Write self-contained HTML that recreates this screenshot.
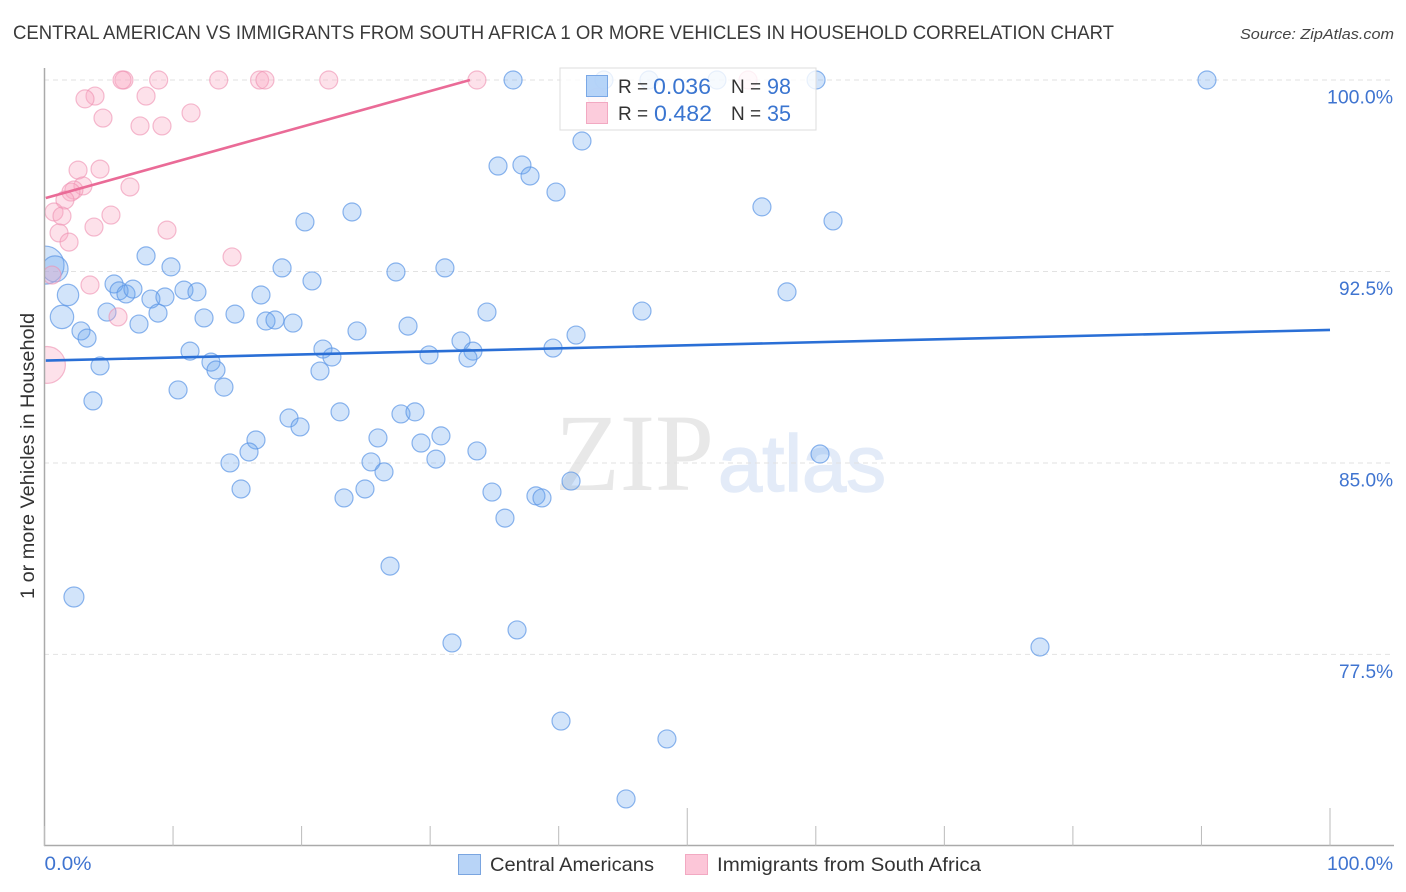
<!DOCTYPE html>
<html>
<head>
<meta charset="utf-8">
<title>Central American vs Immigrants from South Africa chart</title>
<style>
html,body{margin:0;padding:0;background:#fff;}
svg{display:block;font-family:"Liberation Sans",sans-serif;}
</style>
</head>
<body>
<svg id="chart" width="1406" height="892" viewBox="0 0 1406 892" xmlns="http://www.w3.org/2000/svg">
<text x="13" y="39" font-size="19.5" fill="#3a3a3a" textLength="1101" lengthAdjust="spacingAndGlyphs">CENTRAL AMERICAN VS IMMIGRANTS FROM SOUTH AFRICA 1 OR MORE VEHICLES IN HOUSEHOLD CORRELATION CHART</text>
<text x="1394" y="39" font-size="15" font-style="italic" fill="#444" text-anchor="end" textLength="154" lengthAdjust="spacingAndGlyphs">Source: ZipAtlas.com</text>
<text x="555" y="490" font-family="'Liberation Serif',serif" font-size="110" fill="#e8e8e8" textLength="159" lengthAdjust="spacingAndGlyphs">ZIP</text>
<text x="718" y="491" font-size="80" fill="#e3ebf8" stroke="#e3ebf8" stroke-width="1.5" textLength="168" lengthAdjust="spacingAndGlyphs">atlas</text>
<g id="grid"></g>
<g id="points"></g>
<rect x="0" y="60" width="44.5" height="786" fill="#fff"/>
<g id="axes"></g>
<g id="lines"></g>
<g>
<rect x="560" y="68" width="256" height="62" fill="#fff" fill-opacity="0.8" stroke="#ddd" stroke-width="1"/>
<rect x="586.5" y="75.5" width="21" height="21" fill="#a9ccf7" fill-opacity="0.85" stroke="#7aa8e6"/>
<rect x="586.5" y="102.5" width="21" height="21" fill="#fcc6d8" fill-opacity="0.9" stroke="#f2a9c2"/>
<text x="618" y="93" font-size="19" fill="#333">R =</text>
<text x="653" y="94" font-size="22" fill="#3a75d0" textLength="58" lengthAdjust="spacingAndGlyphs">0.036</text>
<text x="731" y="93" font-size="19" fill="#333">N =</text>
<text x="767" y="94" font-size="22" fill="#3a75d0" textLength="24" lengthAdjust="spacingAndGlyphs">98</text>
<text x="618" y="120" font-size="19" fill="#333">R =</text>
<text x="654" y="121" font-size="22" fill="#3a75d0" textLength="58" lengthAdjust="spacingAndGlyphs">0.482</text>
<text x="731" y="120" font-size="19" fill="#333">N =</text>
<text x="767" y="121" font-size="22" fill="#3a75d0" textLength="24" lengthAdjust="spacingAndGlyphs">35</text>
</g>
<text transform="translate(34,456) rotate(-90)" font-size="19" fill="#333" text-anchor="middle" textLength="286" lengthAdjust="spacingAndGlyphs">1 or more Vehicles in Household</text>
<g>
<rect x="458.5" y="854.5" width="22" height="20" fill="#b8d4f7" stroke="#7aa5e0"/>
<text x="490" y="871" font-size="19.5" fill="#333" textLength="164" lengthAdjust="spacingAndGlyphs">Central Americans</text>
<rect x="685.5" y="854.5" width="22" height="20" fill="#fcc6d8" stroke="#f2a9c2"/>
<text x="717" y="871" font-size="19.5" fill="#333" textLength="264" lengthAdjust="spacingAndGlyphs">Immigrants from South Africa</text>
</g>
</svg>
<script>
const blueX = [0.04,0.82,1.83,1.36,2.29,
36.45,43.52,47.02,52.31,60.02,90.43,41.81,35.28,37.14,37.77,39.79,55.81,61.34,20.26,23.92,7.90,9.84,18.48,20.81,27.34,31.15,
5.41,5.80,6.34,6.88,8.28,9.37,10.85,11.86,16.84,8.83,4.86,7.35,12.41,14.82,17.23,17.93,19.33,24.31,28.28,34.42,46.48,57.76,41.35,
2.84,3.31,32.40,33.33,32.94,39.56,29.91,21.66,22.36,21.43,11.32,12.95,13.34,4.32,13.96,10.39,3.77,22.99,19.02,19.88,27.73,28.82,
16.45,25.94,29.29,30.84,15.91,14.43,25.40,26.41,30.45,33.64,60.33,40.96,15.29,23.30,24.93,34.81,38.23,38.70,35.82,26.88,
36.76,31.70,77.44,40.18,48.42,45.24];
const blueY = [92.75,92.60,91.58,90.72,79.75,
100,100,100,100,100,100,97.61,96.63,96.67,96.24,95.61,95.03,94.48,94.44,94.83,93.11,92.68,92.64,92.13,92.48,92.64,
92.01,91.74,91.62,91.81,91.42,91.50,91.77,91.70,91.58,90.87,90.91,90.44,90.68,90.83,90.56,90.60,90.48,90.17,90.36,90.91,90.95,91.70,90.01,
90.17,89.89,89.78,89.38,89.11,89.50,89.23,89.46,89.15,88.60,89.38,88.95,88.64,88.80,87.97,87.86,87.43,87.00,86.76,86.41,86.92,87.00,
85.90,85.98,85.78,86.06,85.43,85.00,85.04,84.65,85.15,85.47,85.35,84.29,83.98,83.63,83.98,83.86,83.71,83.63,82.84,80.96,
78.46,77.95,77.79,74.89,74.19,71.84];
const blueWeight = [4.46,2.09,1.41,1.69,1.23];
const pinkX = [0.19,0.58,
6.18,6.03,8.88,13.55,16.73,17.15,22.11,33.64,54.73,42.98,3.93,3.15,7.90,11.40,4.55,7.43,9.14,2.61,4.32,6.65,2.99,2.29,2.06,1.59,0.74,1.36,3.85,5.17,9.53,1.13,1.91,14.59,3.54,5.72];
const pinkY = [88.84,92.36,
100,100,100,100,100,100,100,100,100,99.33,99.37,99.26,99.37,98.71,98.51,98.20,98.20,96.47,96.51,95.81,95.85,95.69,95.61,95.30,94.83,94.67,94.24,94.71,94.12,94.01,93.65,93.07,91.97,90.72];
const pinkWeight = [4.2];
const blueTrendX = [0.1,100];
const blueTrendY = [89.01,90.21];
const pinkTrendX = [0.1,33.1];
const pinkTrendY = [95.38,100];
const yTickValues = [100,92.5,85,77.5];
const yTickLabels = ["100.0%","92.5%","85.0%","77.5%"];
const xTickValues = [0,10,20,30,40,50,60,70,80,90,100];
const xEndValues = [0,100];
const xEndLabels = ["0.0%","100.0%"];

const NS = 'http://www.w3.org/2000/svg';
function xScale(v){ return 44.5 + v * 12.855; }
function yScale(v){ return 80 + (100 - v) * 25.53; }
function radius(w){ return 9 * Math.sqrt(w); }
function make(tag, parent, attrs){
  const el = document.createElementNS(NS, tag);
  for (const k in attrs) el.setAttribute(k, attrs[k]);
  parent.appendChild(el);
  return el;
}
const grid = document.getElementById('grid');
const axes = document.getElementById('axes');
const points = document.getElementById('points');
const lines = document.getElementById('lines');

yTickValues.forEach(function(v, i){
  const g = make('line', grid, {x1:44, x2:1394, y1:yScale(v), y2:yScale(v), stroke:'#e2e2e2', 'stroke-width':1, 'stroke-dasharray':'5 4'});
  
  
  const t = make('text', axes, {x:1393, y:yScale(v)+23.5, 'font-size':19, fill:'#3f74d0', 'text-anchor':'end', textLength:(i === 0 ? 66 : 54), lengthAdjust:'spacingAndGlyphs'});
  t.textContent = yTickLabels[i];
  
  
});

const yAxis = make('line', axes, {x1:44.5, x2:44.5, y1:68, y2:846, stroke:'#aaa', 'stroke-width':1.5});


const xAxis = make('line', axes, {x1:44, x2:1394, y1:845.5, y2:845.5, stroke:'#aaa', 'stroke-width':1.5});



xTickValues.forEach(function(v){
  const top = (v === 50 || v === 100) ? 808 : 826;
  const tk = make('line', axes, {x1:xScale(v), x2:xScale(v), y1:top, y2:846, stroke:'#bbb', 'stroke-width':1});
  
  
});
xEndValues.forEach(function(v, i){
  const lt = make('text', axes, {x: i === 0 ? xScale(v) : 1393, y:870, 'font-size':19, fill:'#3f74d0', 'text-anchor': i === 0 ? 'start' : 'end', textLength:(i === 0 ? 47 : 66), lengthAdjust:'spacingAndGlyphs'});
  lt.textContent = xEndLabels[i];
  
  
});

blueX.forEach(function(v, i){
  const c = make('circle', points, {cx:xScale(v), cy:yScale(blueY[i]), r:radius(blueWeight[i] || 1), fill:'#6aa5ee', 'fill-opacity':0.3, stroke:'#5b96e6', 'stroke-opacity':0.7, 'stroke-width':1.2});
  
  
});
pinkX.forEach(function(v, i){
  const c = make('circle', points, {cx:xScale(v), cy:yScale(pinkY[i]), r:radius(pinkWeight[i] || 1), fill:'#f8a8c4', 'fill-opacity':0.35, stroke:'#ef8fb0', 'stroke-opacity':0.6, 'stroke-width':1.2});
  
  
});

const blueLine = make('line', lines, {x1:xScale(blueTrendX[0]), x2:xScale(blueTrendX[1]), y1:yScale(blueTrendY[0]), y2:yScale(blueTrendY[1]), stroke:'#2a6fd6', 'stroke-width':2.6});


const pinkLine = make('line', lines, {x1:xScale(pinkTrendX[0]), x2:xScale(pinkTrendX[1]), y1:yScale(pinkTrendY[0]), y2:yScale(pinkTrendY[1]), stroke:'#ea6b97', 'stroke-width':2.6});


</script>
</body>
</html>
